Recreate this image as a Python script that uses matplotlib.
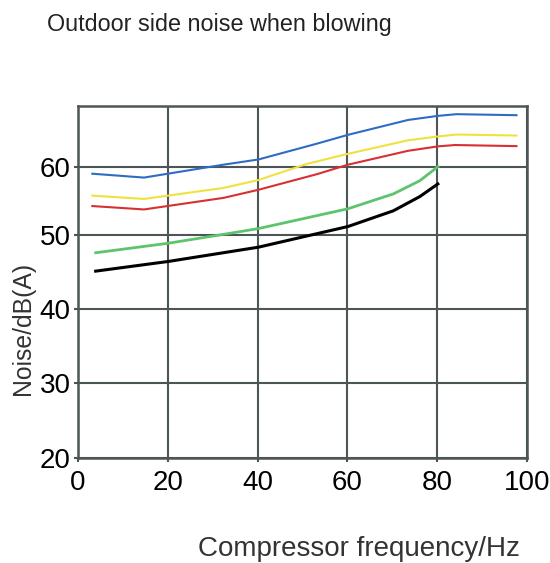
import matplotlib
matplotlib.use("Agg")
import matplotlib.pyplot as plt
import numpy as np

plt.rcParams['font.family'] = ['Liberation Sans', 'DejaVu Sans']

# values (x = Hz, y = dB(A))
blue_x = [3.25, 14.75, 32.4, 40.2, 53.2, 60.1, 73.5, 80.1, 84.3, 97.6]
blue_y = [58.97, 58.4, 60.3, 61.07, 63.4, 64.7, 66.9, 67.5, 67.75, 67.6]

yellow_x = [3.25, 14.75, 32.4, 40.2, 50.9, 60.1, 73.5, 80.1, 84.3, 97.6]
yellow_y = [55.74, 55.25, 56.87, 58.04, 60.4, 61.9, 63.9, 64.46, 64.75, 64.6]

red_x = [3.25, 14.75, 32.4, 40.2, 53.2, 60.1, 73.5, 80.1, 83.9, 97.6]
red_y = [54.2, 53.7, 55.4, 56.6, 58.9, 60.3, 62.35, 63.0, 63.2, 63.04]

green_x = [4.0, 20.15, 33.1, 40.2, 60.1, 70.2, 76.1, 80.1]
green_y = [47.55, 48.83, 50.1, 50.88, 53.8, 55.99, 57.94, 60.0]

black_x = [4.0, 20.15, 40.2, 60.1, 70.2, 76.1, 80.1]
black_y = [45.08, 46.38, 48.3, 51.18, 53.5, 55.6, 57.46]

xticks = [0, 20, 40, 60, 80, 100]
yticks = [20, 30, 40, 50, 60]

# the original drawing squeezes the band above 50 dB a little
k = 6.8 / 7.46

def fwd(y):
    y = np.asarray(y, dtype=float)
    return np.where(y <= 50, y, 50 + (y - 50) * k)

def inv(u):
    u = np.asarray(u, dtype=float)
    return np.where(u <= 50, u, 50 + (u - 50) / k)

grid_c = '#4d5657'

fig = plt.figure(figsize=(5.5, 5.63), dpi=100)
ax = fig.add_axes([77.7/550, 1 - 457.7/563, (527.3 - 77.7)/550, (457.7 - 105.7)/563])
ax.set_yscale('function', functions=(fwd, inv))

ax.plot(blue_x, blue_y, color='#2e6cc4', lw=1.5)
ax.plot(yellow_x, yellow_y, color='#f0e23e', lw=1.5)
ax.plot(red_x, red_y, color='#d83030', lw=1.5)
ax.plot(green_x, green_y, color='#5cc46c', lw=2.0)
ax.plot(black_x, black_y, color='black', lw=2.2)

ax.set_xlim(0, 100)
ax.set_ylim(20, 69)
ax.set_xticks(xticks)
ax.set_yticks(yticks)
ax.grid(True, color=grid_c, lw=1.5)
ax.set_axisbelow(True)
for s in ax.spines.values():
    s.set_color(grid_c)
    s.set_linewidth(1.8)
ax.tick_params(axis='both', labelsize=20, color=grid_c, width=1.5, length=3)
ax.tick_params(axis='x', pad=6)
ax.tick_params(axis='y', pad=2)

fig.text(47/550, 1 - 31.5/563, 'Outdoor side noise when blowing',
         fontsize=16.8, color='#222222', va='baseline', ha='left')
fig.text(359/550, 6.5/563, 'Compressor frequency/Hz',
         fontsize=20, color='#333333', va='baseline', ha='center')
fig.text(23/550, 1 - 328/563, 'Noise/dB(A)', rotation=90,
         fontsize=17.8, color='#333333', va='center', ha='center')

fig.savefig('out.png', dpi=100)
